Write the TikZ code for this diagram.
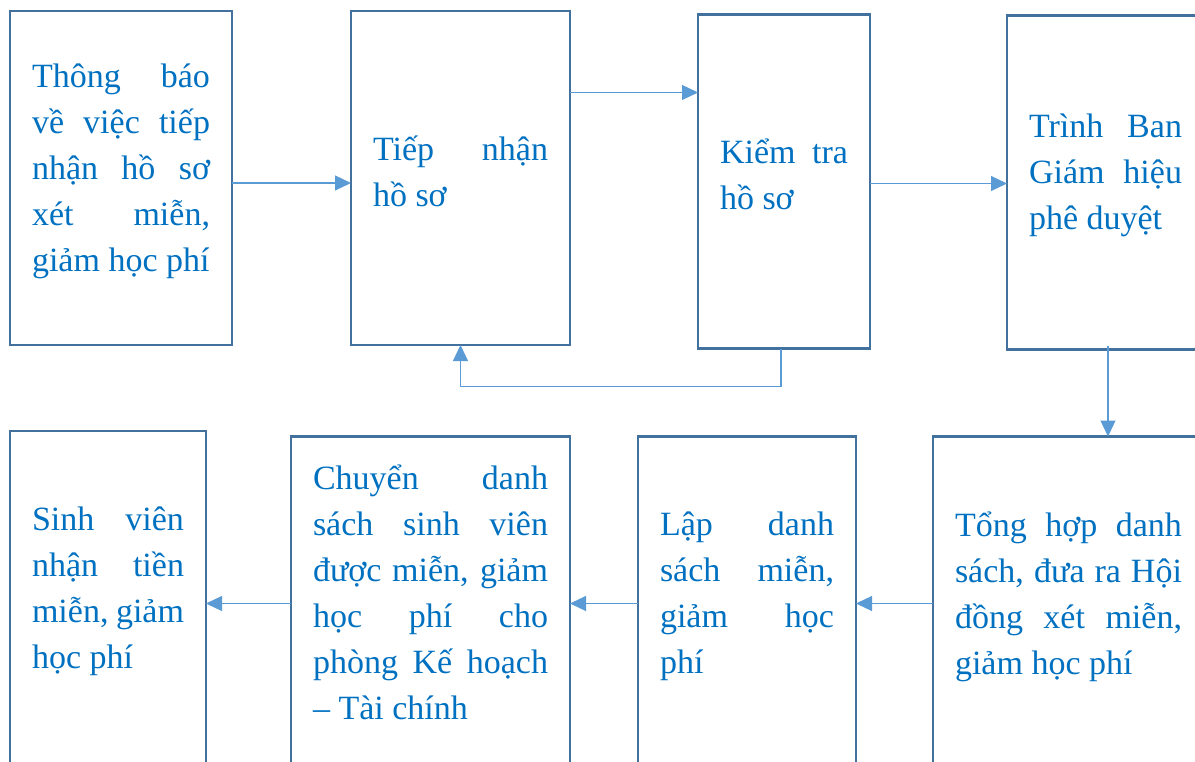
\documentclass[tikz,border=0pt]{standalone}
\usepackage{fontspec}
\setmainfont{Liberation Serif}
\usetikzlibrary{positioning, arrows.meta}
\definecolor{boxline}{HTML}{41719C}
\definecolor{textblue}{HTML}{0070C0}
\definecolor{arrowblue}{HTML}{5B9BD5}
\tolerance=10000
\hyphenpenalty=10000
\tikzset{
	->, % every connector is directed
	>={Triangle[length=16pt, width=15pt]}, % plain filled triangle heads
	x=1pt, y=1pt, % coordinates are given in points
	box/.style={draw=boxline, line width=2.2pt, outer sep=0pt, inner xsep=22pt, minimum height=334pt, align=justify, text=textblue, execute at end node={\par\kern14pt}}, % sets the look of every step
	flow/.style={arrowblue, line width=1.2pt}, % sets the look of every connector
}

\begin{document}
\begin{tikzpicture}[font=\fontsize{34}{46}\selectfont]
	\path[use as bounding box, clip] (0,0) rectangle (1195,-762);

	\node[box, text width=178pt] (tb) at (121,-178) {Thông báo\linebreak về việc tiếp\linebreak nhận hồ sơ\linebreak xét miễn,\linebreak giảm học phí};
	\node[box, text width=175pt] (tn) [right=119pt of tb] {Tiếp nhận\linebreak hồ sơ};
	\node[box, text width=128pt] (kt) [right=128pt of tn, yshift=-3.5pt] {Kiểm tra\linebreak hồ sơ};
	\node[box, text width=153pt] (bgh) [right=137pt of kt, yshift=-1pt] {Trình Ban\linebreak Giám hiệu\linebreak phê duyệt};
	\node[box, text width=227pt] (th) [below=87pt of bgh.south east, anchor=north east] {Tổng hợp danh\linebreak sách, đưa ra Hội\linebreak đồng xét miễn,\linebreak giảm học phí};
	\node[box, text width=174pt] (lap) [left=77pt of th] {Lập danh\linebreak sách miễn,\linebreak giảm học\linebreak phí};
	\node[box, text width=235pt, execute at end node={\kern8pt}] (cds) [left=68pt of lap] {Chuyển danh\linebreak sách sinh viên\linebreak được miễn, giảm\linebreak học phí cho\linebreak phòng Kế hoạch\linebreak – Tài chính};
	\node[box, text width=152pt] (sv) [left=85pt of cds, yshift=5.5pt] {Sinh viên\linebreak nhận tiền\linebreak miễn, giảm\linebreak học phí};

	\draw[flow] ([yshift=-5pt]tb.east) -- ([yshift=-5pt]tb.east -| tn.west);
	\draw[flow] ([yshift=85.5pt]tn.east) -- ([yshift=85.5pt]tn.east -| kt.west);
	\draw[flow] ([yshift=-2pt]kt.east) -- ([yshift=-2pt]kt.east -| bgh.west);
	\draw[flow] ([xshift=-3pt]kt.south) -- ++(0,-38) -| (tn.south);
	\draw[flow] ([xshift=2.5pt, yshift=4pt]bgh.south) -- ([xshift=2.5pt]bgh.south |- th.north);
	\draw[flow] (th.west) -- (lap.east);
	\draw[flow] (lap.west) -- (cds.east);
	\draw[flow] (cds.west) -- (cds.west -| sv.east);
\end{tikzpicture}
\end{document}
